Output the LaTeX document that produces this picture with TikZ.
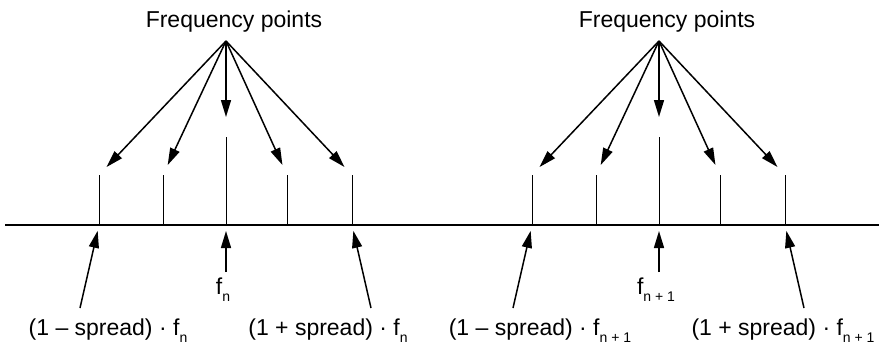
\documentclass[tikz,border=0pt]{standalone}
\usepackage{fontspec}
\setmainfont{Liberation Sans}
\usetikzlibrary{arrows.meta}
\newcommand{\lowsub}[1]{\raisebox{-7pt}{\fontsize{14}{16}\selectfont #1}}
\tikzset{
  axisline/.style={line width=2pt},
  tickline/.style={line width=1pt},
  pointer/.style={line width=1.5pt, -{Triangle[length=17pt,width=10pt]}},
  lbl/.style={font=\fontsize{23}{27}\selectfont, inner sep=0pt},
}

\begin{document}
\begin{tikzpicture}[x=1pt,y=-1pt]
  \useasboundingbox (0,0) rectangle (887,351);
  % frequency axis
  \coordinate (axL) at (5,225);
  \coordinate (axR) at (879,225);
  \draw[axisline] (axL) -- (axR);

  \foreach \g/\cx/\sb/\lx/\rx/\mx in {1/226/n/-118/102/-3, 2/659/{n + 1}/-119/124/-3} {
    \begin{scope}[xshift=\cx pt]
      \node[lbl, anchor=base] (title\g) at (8,27) {Frequency points};
      \coordinate (apex\g) at (0,41);
      % ticks of the frequency points
      \foreach \k/\dx/\h in {1/-127/175, 2/-63/175, 3/0/137, 4/61/175, 5/126/175} {
        \coordinate (base\g\k) at (\dx,225);
        \coordinate (top\g\k) at (\dx,\h);
        \draw[tickline] (base\g\k) -- (top\g\k);
      }
      \foreach \k in {1,2,4,5}
        \draw[pointer, shorten >=11pt] (apex\g) -- (top\g\k);
      \draw[pointer, shorten >=20pt] (apex\g) -- (top\g3);
      % lower limits and centre
      \coordinate (tailL\g) at (-146,308);
      \coordinate (tailC\g) at (0,272);
      \coordinate (tailR\g) at (145,308);
      \draw[pointer, shorten >=6pt] (tailL\g) -- (base\g1);
      \draw[pointer, shorten >=6pt] (tailC\g) -- (base\g3);
      \draw[pointer, shorten >=6pt] (tailR\g) -- (base\g5);
      \node[lbl, anchor=base] (centre\g) at (\mx,294) {f\lowsub{\sb}};
      \node[lbl, anchor=base] (lower\g) at (\lx,335) {(1 – spread) · f\lowsub{\sb}};
      \node[lbl, anchor=base] (upper\g) at (\rx,335) {(1 + spread) · f\lowsub{\sb}};
    \end{scope}
  }
\end{tikzpicture}
\end{document}
